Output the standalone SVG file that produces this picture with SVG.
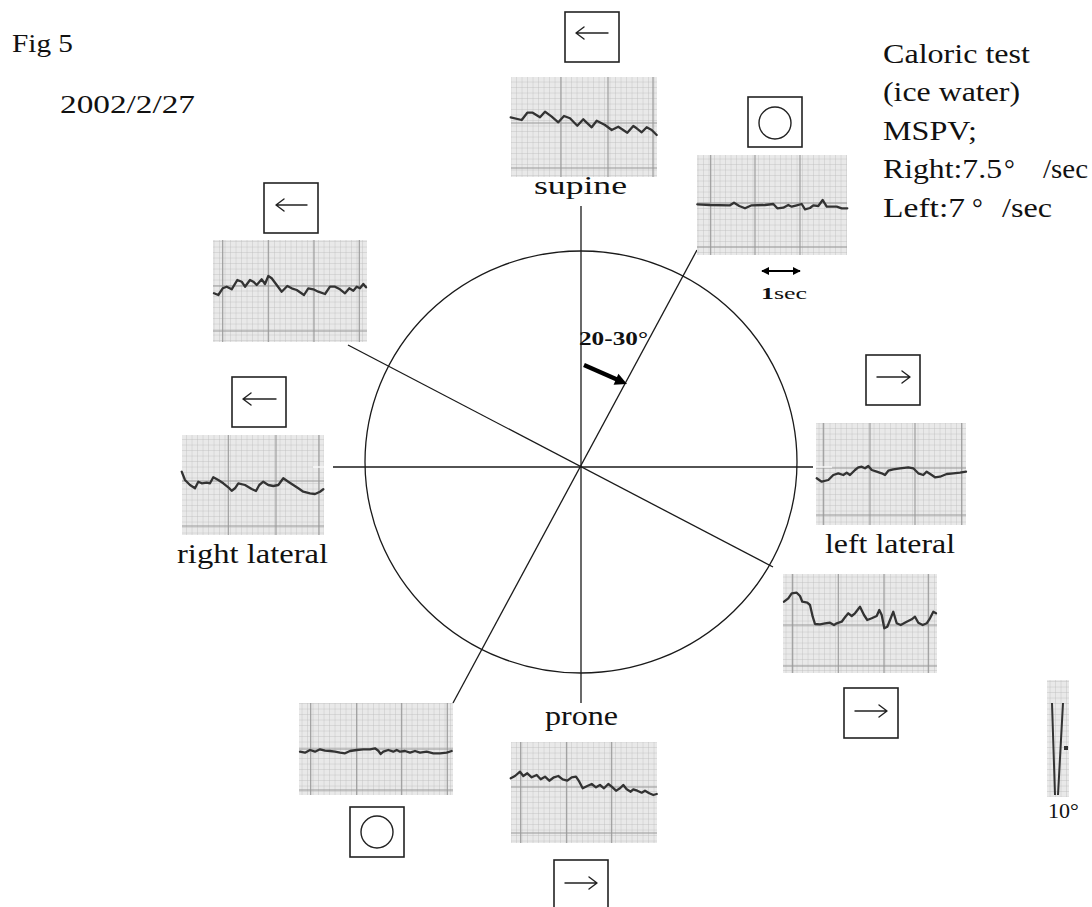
<svg xmlns="http://www.w3.org/2000/svg" width="1092" height="907" viewBox="0 0 1092 907">
  <defs>
    <!-- fine chart-paper grid -->
    <pattern id="minor" width="5.5" height="5.5" patternUnits="userSpaceOnUse">
      <rect width="5.5" height="5.5" fill="#e9e9e9"/>
      <path d="M5.5 0V5.5M0 5.5H5.5" stroke="#bdbdbd" stroke-width="0.8" fill="none"/>
    </pattern>
    <marker id="solidHead" viewBox="0 0 10 10" refX="9" refY="5" markerWidth="8" markerHeight="8" markerUnits="userSpaceOnUse" orient="auto-start-reverse">
      <path d="M0 0L10 5L0 10z" fill="#000"/>
    </marker>
    <style>
      .txt { font-family: "Liberation Serif", "Times New Roman", serif; fill: #111; }
      .sym { fill: #fff; stroke: #222; stroke-width: 1.6; }
      .glyph { fill: none; stroke: #222; stroke-width: 1.4; stroke-linecap: round; stroke-linejoin: round; }
      .major { fill: none; stroke: #999; stroke-width: 1.1; }
      .trace { fill: none; stroke: #333; stroke-width: 2.3; stroke-linejoin: round; stroke-linecap: round; }
      .axis { fill: none; stroke: #1a1a1a; stroke-width: 1.3; }
    </style>
  </defs>

  <rect width="1092" height="907" fill="#fff"/>

  <!-- header text -->
  <g id="title">
    <text class="txt" x="12" y="52" font-size="26" textLength="61" lengthAdjust="spacingAndGlyphs">Fig 5</text>
    <text class="txt" x="60" y="113" font-size="26" textLength="135" lengthAdjust="spacingAndGlyphs">2002/2/27</text>
  </g>

  <g id="legend" font-size="27">
    <text class="txt" x="883" y="63" textLength="147" lengthAdjust="spacingAndGlyphs">Caloric test</text>
    <text class="txt" x="883" y="101" textLength="137" lengthAdjust="spacingAndGlyphs">(ice water)</text>
    <text class="txt" x="883" y="140" textLength="94" lengthAdjust="spacingAndGlyphs">MSPV;</text>
    <text class="txt" x="883" y="178" textLength="119" lengthAdjust="spacingAndGlyphs">Right:7.5</text>
    <text class="txt" x="1004" y="178">°</text>
    <text class="txt" x="1043" y="178" textLength="45" lengthAdjust="spacingAndGlyphs">/sec</text>
    <text class="txt" x="883" y="217" textLength="82" lengthAdjust="spacingAndGlyphs">Left:7</text>
    <text class="txt" x="972" y="217">°</text>
    <text class="txt" x="1002" y="217" textLength="50" lengthAdjust="spacingAndGlyphs">/sec</text>
  </g>

  <!-- circle and body-axis connectors -->
  <g id="connectors">
    <ellipse class="axis" cx="581" cy="462" rx="216" ry="211"/>
    <line class="axis" x1="581" y1="206" x2="581" y2="703"/>
    <line class="axis" x1="333" y1="467" x2="813" y2="467"/>
    <line class="axis" x1="453" y1="703" x2="697" y2="250"/>
    <line class="axis" x1="348" y1="345" x2="773" y2="567"/>
    <!-- tilt marker -->
    <path d="M584 365L617 379.5" stroke="#000" stroke-width="4.5" fill="none"/>
    <path d="M627 384L613.6 384.7L618.4 373.7z" fill="#000"/>
    <text class="txt" x="579" y="345" font-size="19" font-weight="bold" textLength="69" lengthAdjust="spacingAndGlyphs">20-30°</text>
  </g>

  <!-- supine -->
  <g id="supine">
    <rect class="sym" x="565" y="12" width="54" height="50"/>
    <path class="glyph" d="M576 33H608M584 27L576 33L584 39"/>
    <rect x="511" y="77" width="146" height="100" fill="url(#minor)"/>
    <path class="major" d="M561 77V177M608 77V177M653 77V177M511 123H657M511 168H657"/>
    <polyline class="trace" points="510.7,117.3 521.7,120 527.3,112.7 532.7,112.7 540,117.3 545,111.7 551.7,116.7 558.3,122.3 564,116 570,118.3 577.3,125.7 583.3,119.3 591.7,127.3 596.7,120.7 605,125 611.7,130 618.3,126.7 627.3,132.7 633.3,126 636.7,128.3 641.7,132.3 646.7,127.3 651.7,130 656.7,135"/>
    <text class="txt" x="534" y="194" font-size="26" textLength="93" lengthAdjust="spacingAndGlyphs">supine</text>
  </g>

  <!-- supine tilted 20-30 deg -->
  <g id="supine-tilted">
    <rect class="sym" x="748" y="97" width="54" height="50"/>
    <circle class="glyph" cx="775" cy="123" r="16"/>
    <rect x="697" y="155" width="150" height="100" fill="url(#minor)"/>
    <path class="major" d="M710.7 155V255M755 155V255M800 155V255M697 203H847M697 247H847"/>
    <polyline class="trace" points="697.3,204.3 710,205 730,205.3 734,202.7 739.3,206 745,208.3 751.7,205.3 765,205 773.3,204 777.3,208.3 783.3,207.7 788.3,205 791.7,206.7 796.7,205.3 801.7,204 805,209.3 810,208 813.3,205.3 818.3,206 822.7,200 826.7,206.7 836.7,206.7 841.7,208.3 847.3,208.3"/>
    <line x1="762" y1="271" x2="800" y2="271" stroke="#000" stroke-width="1.8" marker-start="url(#solidHead)" marker-end="url(#solidHead)"/>
    <text class="txt" x="761" y="299" font-size="17" textLength="46" lengthAdjust="spacingAndGlyphs"><tspan font-weight="bold">1</tspan>sec</text>
  </g>

  <!-- upper left oblique -->
  <g id="upper-left">
    <rect class="sym" x="264" y="183" width="54" height="50"/>
    <path class="glyph" d="M276 205H307M284 199L276 205L284 211"/>
    <rect x="213" y="240" width="154" height="102" fill="url(#minor)"/>
    <path class="major" d="M222.7 240V342M268.3 240V342M314 240V342M359.3 240V342M213 286H367M213 331H367"/>
    <polyline class="trace" points="214,293.3 218.3,295 222.7,288.3 226.7,286.7 231.7,289.3 237.3,280 241.7,281.7 245,286.7 250,280 253.3,281.7 256.7,285 261.7,279.3 265,284 268.3,276 271.7,278.3 276.7,285 281.7,291.7 287.3,286 291.7,288.3 296.7,290 304,295 308.3,288.3 313.3,289.3 318.3,291.7 325,294 330,286.7 335,286.7 340,289.3 345,293.3 349.3,288.3 353.3,290.7 356.7,286.7 360,288.3 363.3,284 366,287.3"/>
  </g>

  <!-- right lateral -->
  <g id="right-lateral">
    <rect class="sym" x="232" y="377" width="54" height="50"/>
    <path class="glyph" d="M243 399H276M251 393L243 399L251 405"/>
    <rect x="182" y="435" width="142" height="100" fill="url(#minor)"/>
    <path class="major" d="M228.3 435V535M276 435V535M319 435V535M182 481H324M182 526H324"/>
    <polyline class="trace" points="181.7,471.7 185,480 190,485 195,488.3 198.3,481.7 201.7,483.3 206.7,482.7 210,483.3 213.3,477.3 218.3,480 223.3,483.3 228.3,487.3 231.7,490.7 235,488.3 238.3,483.3 245,485 251.7,489 256,491 259.3,485 263.3,481.7 268.3,485 273.3,486 278.3,485 283.3,478.3 288.3,481.7 293.3,485 298.3,488.3 303.3,491.7 310,493.3 315,494 320,491.7 323.3,489.3"/>
    <line x1="313" y1="467" x2="324" y2="467" stroke="#fff" stroke-width="1.3"/>
    <text class="txt" x="177" y="563" font-size="27" textLength="151" lengthAdjust="spacingAndGlyphs">right lateral</text>
  </g>

  <!-- left lateral -->
  <g id="left-lateral">
    <rect class="sym" x="866" y="355" width="54" height="50"/>
    <path class="glyph" d="M877 377H910M902 371L910 377L902 383"/>
    <rect x="816" y="423" width="150" height="102" fill="url(#minor)"/>
    <path class="major" d="M823.3 423V525M870 423V525M915 423V525M961.7 423V525M816 468H966M816 515H966"/>
    <polyline class="trace" points="816.7,478.3 821.7,481.7 828.3,480 833.3,475 838.3,473.3 843.3,475 846.7,472.7 850,475 855,470 858.3,467.3 861.7,466.7 865,468.3 868.3,466 871.7,470 876.7,471.7 881.7,473.3 885,475 888.3,470.7 893.3,469.3 900,468.3 908.3,467.3 913.3,468.3 918.3,473.3 923.3,475 926.7,471.7 931.7,475 935,477.3 940,476.7 946.7,474 953.3,473.3 960,472.7 966,471.7"/>
    <line x1="816" y1="467" x2="832" y2="467" stroke="#fff" stroke-width="1.3"/>
    <text class="txt" x="825" y="553" font-size="27" textLength="130" lengthAdjust="spacingAndGlyphs">left lateral</text>
  </g>

  <!-- lower right oblique -->
  <g id="lower-right">
    <rect x="783" y="574" width="154" height="99" fill="url(#minor)"/>
    <path class="major" d="M792.7 574V673M838.3 574V673M884 574V673M928.3 574V673M783 625H937M783 666H937"/>
    <polyline class="trace" points="784,601.7 788.3,598.3 791.7,593.3 796.7,592.7 800,596 802.3,601.7 807.3,602.7 810,605 812.7,616.7 815,624 820,624.3 825,623.3 830,622.7 834,625 836.7,623.3 841.7,621.7 845,617.3 848.3,613.3 851.7,616 855,613.3 860,606.7 864,615 867.3,620 871.7,618.3 876.7,616 879.3,610 881.7,615 884.3,628.3 887.3,626.7 890.7,618.3 893.3,611.7 896.7,623.3 900.7,625 906.7,621.7 911.7,619.3 915,616.7 918.3,622.7 922.7,625 926.7,623.3 930,618.3 933.3,611.7 936,613.3"/>
    <rect class="sym" x="844" y="688" width="54" height="50"/>
    <path class="glyph" d="M855 711H887M879 705L887 711L879 717"/>
  </g>

  <!-- lower left oblique -->
  <g id="lower-left">
    <rect x="299" y="703" width="154" height="92" fill="url(#minor)"/>
    <path class="major" d="M310.7 703V795M356.7 703V795M401.7 703V795M447.3 703V795M299 749H453M299 790H453"/>
    <polyline class="trace" points="300,751.7 305,752.7 310,750 315,751.7 320,749.3 325,750.7 330,751 335,751.7 340,752.7 345,753.3 350,751 356.7,750 363.3,749.3 370,749.3 375,748.3 378.3,750.7 380.7,754 383.3,751.7 388.3,750 393.3,751.7 396.7,750 400,751.7 405,751 410,752.7 415,751 420,752.7 426.7,751.7 433.3,753.3 440,753.3 446.7,752.7 451.7,751"/>
    <rect class="sym" x="350" y="807" width="54" height="50"/>
    <circle class="glyph" cx="377" cy="832" r="16"/>
  </g>

  <!-- prone -->
  <g id="prone">
    <text class="txt" x="545" y="725" font-size="27" textLength="73" lengthAdjust="spacingAndGlyphs">prone</text>
    <rect x="511" y="742" width="146" height="101" fill="url(#minor)"/>
    <path class="major" d="M520.7 742V843M566.7 742V843M611.7 742V843M511 787H657M511 833H657"/>
    <polyline class="trace" points="510.7,778.3 515,776 520,771.7 523.3,776 527.3,773.3 531.7,777.3 536.7,775 540.7,779.3 545,776.7 549.3,780.7 554,777.3 558.3,776 562.7,779.3 567.3,780.7 571.7,777.3 576,776.7 579.3,781.7 582.7,788.3 587.3,786 591.7,784 596,787.3 600,785 604,788.3 608.3,784 611.7,786.7 616,790.7 620,788.3 623.3,785 626.7,789.3 630.7,791.7 633.3,789.3 637.3,790.7 641.7,792.7 645,790.7 649.3,793.3 653.3,795 656.7,794"/>
    <rect class="sym" x="554" y="860" width="54" height="60"/>
    <path class="glyph" d="M565 883H597M589 877L597 883L589 889"/>
  </g>

  <!-- amplitude calibration -->
  <g id="calibration">
    <rect x="1047" y="680" width="22" height="117" fill="url(#minor)"/>
    <path d="M1052 703L1055 795M1063 703L1058 795" fill="none" stroke="#333" stroke-width="2"/>
    <rect x="1064" y="746" width="4" height="4" fill="#333"/>
    <text class="txt" x="1048" y="818" font-size="22">10°</text>
  </g>
</svg>
